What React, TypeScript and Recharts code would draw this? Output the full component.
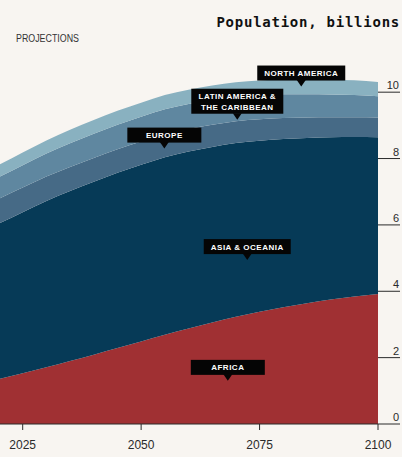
import React from "react"
import { AreaChart, Area, XAxis, YAxis, ReferenceDot } from "recharts"

// UN-style medium projections, billions
const YEARS = [2020, 2025, 2030, 2035, 2040, 2045, 2050, 2055, 2060, 2065, 2070, 2075, 2080, 2085, 2090, 2095, 2100]
const AFRICA = [1.36, 1.53, 1.71, 1.9, 2.09, 2.29, 2.49, 2.69, 2.88, 3.06, 3.23, 3.38, 3.52, 3.64, 3.75, 3.84, 3.92]
const ASIA_OCEANIA = [4.68, 4.85, 5.01, 5.12, 5.21, 5.28, 5.32, 5.35, 5.33, 5.29, 5.24, 5.16, 5.07, 4.98, 4.89, 4.81, 4.72]
const EUROPE = [0.75, 0.744, 0.736, 0.728, 0.719, 0.711, 0.703, 0.694, 0.683, 0.67, 0.657, 0.644, 0.632, 0.62, 0.608, 0.597, 0.6]
const LATIN_AMERICA = [0.652, 0.676, 0.697, 0.715, 0.729, 0.741, 0.749, 0.752, 0.751, 0.746, 0.738, 0.727, 0.714, 0.699, 0.683, 0.665, 0.64]
const NORTH_AMERICA = [0.37, 0.384, 0.394, 0.402, 0.41, 0.416, 0.421, 0.426, 0.431, 0.435, 0.438, 0.441, 0.444, 0.446, 0.447, 0.448, 0.43]

const X_TICKS = [2025, 2050, 2075, 2100]
const Y_TICKS = [0, 2, 4, 6, 8, 10]

// region labels: tip of the pointer in data coords
const LABELS = [
  { lines: ["NORTH AMERICA"], year: 2083.8, value: 10.17, w: 88 },
  { lines: ["LATIN AMERICA &", "THE CARIBBEAN"], year: 2070.3, value: 9.17, w: 92 },
  { lines: ["EUROPE"], year: 2054.9, value: 8.3, w: 74 },
  { lines: ["ASIA & OCEANIA"], year: 2072.4, value: 4.94, w: 87 },
  { lines: ["AFRICA"], year: 2068.3, value: 1.3, w: 74 },
]

const data = YEARS.map((year, i) => ({
  year,
  africa: AFRICA[i],
  asia: ASIA_OCEANIA[i],
  europe: EUROPE[i],
  latam: LATIN_AMERICA[i],
  northAmerica: NORTH_AMERICA[i],
}))

const BG = "#f8f5f1"
const INK = "#2a2a2a"

function YTick(props: any) {
  const { x, y, payload } = props
  return (
    <g>
      <line x1={x} x2={x + 22} y1={y} y2={y} stroke={INK} strokeWidth={1} />
      <text x={x + 21} y={y - 3} textAnchor="end" fontSize={11} fill={INK} fontFamily="Liberation Sans, Arial, sans-serif">
        {payload.value}
      </text>
    </g>
  )
}

function LabelBox(props: any) {
  const { cx, cy, lines, w } = props
  const h = lines.length > 1 ? 25 : 15
  const top = cy - 6 - h
  return (
    <g>
      <rect x={cx - w / 2} y={top} width={w} height={h} fill="#050505" />
      <path d={`M${cx - 4.5},${cy - 6.5} L${cx + 4.5},${cy - 6.5} L${cx},${cy} Z`} fill="#050505" />
      {lines.map((t: string, i: number) => (
        <text
          key={t}
          x={cx}
          y={top + 10.5 + i * 10.5}
          textAnchor="middle"
          fontSize={8}
          fontWeight="bold"
          letterSpacing={0.5}
          fill="#ffffff"
          fontFamily="Liberation Sans, Arial, sans-serif"
        >
          {t}
        </text>
      ))}
    </g>
  )
}

export default function App() {
  return (
    <div style={{ position: "relative", width: 402, height: 457, background: BG, overflow: "hidden" }}>
      <style>{`body{margin:0;background:${BG}}`}</style>
      <AreaChart width={402} height={457} data={data} margin={{ top: 59, right: 0, bottom: 0, left: -1 }}>
        <XAxis
          dataKey="year"
          type="number"
          domain={[2020, 2100]}
          ticks={X_TICKS}
          height={33}
          axisLine={{ stroke: INK }}
          tickLine={{ stroke: INK }}
          tickSize={6}
          tickMargin={10}
          tick={{ fontSize: 12, fill: INK, fontFamily: "Liberation Sans, Arial, sans-serif" }}
        />
        <YAxis
          orientation="right"
          type="number"
          domain={[0, 11]}
          ticks={Y_TICKS}
          width={24}
          axisLine={false}
          tickLine={false}
          tickSize={0}
          tickMargin={0}
          tick={<YTick />}
        />
        <Area type="monotone" dataKey="africa" stackId="1" stroke="none" fill="#a03033" fillOpacity={1} isAnimationActive={false} />
        <Area type="monotone" dataKey="asia" stackId="1" stroke="none" fill="#063a57" fillOpacity={1} isAnimationActive={false} />
        <Area type="monotone" dataKey="europe" stackId="1" stroke="none" fill="#466a86" fillOpacity={1} isAnimationActive={false} />
        <Area type="monotone" dataKey="latam" stackId="1" stroke="none" fill="#5f87a0" fillOpacity={1} isAnimationActive={false} />
        <Area type="monotone" dataKey="northAmerica" stackId="1" stroke="none" fill="#89b1c0" fillOpacity={1} isAnimationActive={false} />
        {LABELS.map((l) => (
          <ReferenceDot
            key={l.lines[0]}
            x={l.year}
            y={l.value}
            r={0}
            ifOverflow="visible"
            shape={(p: any) => <LabelBox {...p} lines={l.lines} w={l.w} />}
          />
        ))}
      </AreaChart>
      <svg width={402} height={60} style={{ position: "absolute", left: 0, top: 0, pointerEvents: "none" }}>
        <text
          x={400}
          y={26.5}
          textAnchor="end"
          fontSize={14}
          fontWeight="bold"
          letterSpacing={0.75}
          fill="#111"
          fontFamily="DejaVu Sans Mono, monospace"
        >
          Population, billions
        </text>
        <text x={16} y={41.5} fontSize={10} fill="#333" textLength={63} lengthAdjust="spacingAndGlyphs" fontFamily="Liberation Sans, Arial, sans-serif">
          PROJECTIONS
        </text>
      </svg>
    </div>
  )
}
